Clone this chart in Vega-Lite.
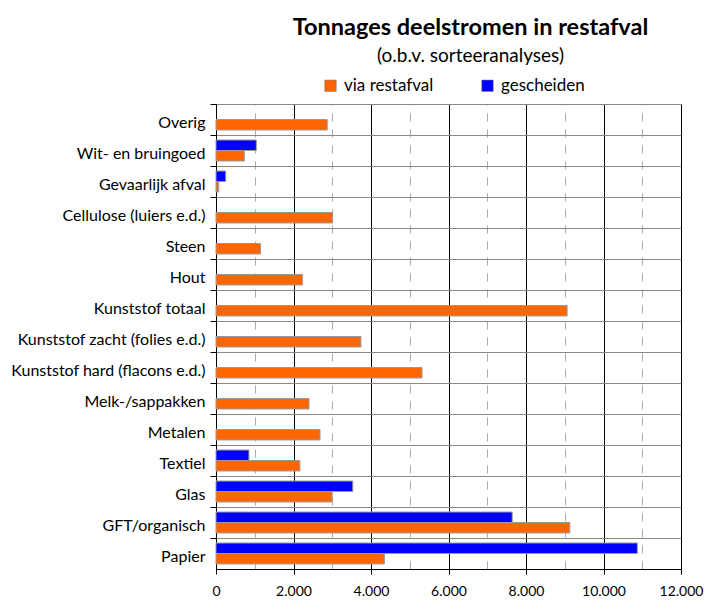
{
  "$schema": "https://vega.github.io/schema/vega-lite/v6.json",
  "autosize": "none",
  "width": 465,
  "height": 465,
  "padding": {"left": 216, "top": 104, "right": 25, "bottom": 32},
  "background": "white",
  "title": {
    "text": "Tonnages deelstromen in restafval",
    "subtitle": "(o.b.v. sorteeranalyses)",
    "anchor": "middle",
    "frame": "group",
    "dx": 22,
    "offset": 11,
    "font": "Lato",
    "fontSize": 23.5,
    "fontWeight": "bold",
    "color": "black",
    "subtitleFont": "Lato",
    "subtitleFontSize": 19,
    "subtitleColor": "black",
    "subtitlePadding": 8
  },
  "data": {
    "values": [
      {"cat": "Overig", "serie": "via restafval", "value": 2870},
      {"cat": "Wit- en bruingoed", "serie": "gescheiden", "value": 1040},
      {"cat": "Wit- en bruingoed", "serie": "via restafval", "value": 730},
      {"cat": "Gevaarlijk afval", "serie": "gescheiden", "value": 250},
      {"cat": "Gevaarlijk afval", "serie": "via restafval", "value": 70},
      {"cat": "Cellulose (luiers e.d.)", "serie": "via restafval", "value": 3010},
      {"cat": "Steen", "serie": "via restafval", "value": 1150},
      {"cat": "Hout", "serie": "via restafval", "value": 2230},
      {"cat": "Kunststof totaal", "serie": "via restafval", "value": 9060},
      {"cat": "Kunststof zacht (folies e.d.)", "serie": "via restafval", "value": 3740},
      {"cat": "Kunststof hard (flacons e.d.)", "serie": "via restafval", "value": 5316},
      {"cat": "Melk-/sappakken", "serie": "via restafval", "value": 2400},
      {"cat": "Metalen", "serie": "via restafval", "value": 2684},
      {"cat": "Textiel", "serie": "gescheiden", "value": 850},
      {"cat": "Textiel", "serie": "via restafval", "value": 2165},
      {"cat": "Glas", "serie": "gescheiden", "value": 3530},
      {"cat": "Glas", "serie": "via restafval", "value": 2997},
      {"cat": "GFT/organisch", "serie": "gescheiden", "value": 7644},
      {"cat": "GFT/organisch", "serie": "via restafval", "value": 9131},
      {"cat": "Papier", "serie": "gescheiden", "value": 10873},
      {"cat": "Papier", "serie": "via restafval", "value": 4345}
    ]
  },
  "mark": {"type": "bar", "stroke": "#999999", "strokeWidth": 1},
  "encoding": {
    "y": {
      "field": "cat",
      "type": "nominal",
      "sort": ["Overig", "Wit- en bruingoed", "Gevaarlijk afval", "Cellulose (luiers e.d.)", "Steen", "Hout", "Kunststof totaal", "Kunststof zacht (folies e.d.)", "Kunststof hard (flacons e.d.)", "Melk-/sappakken", "Metalen", "Textiel", "Glas", "GFT/organisch", "Papier"],
      "scale": {"paddingInner": 0, "paddingOuter": 0},
      "axis": {
        "title": null,
        "bandPosition": 0,
        "labelOffset": 3,
        "grid": true,
        "gridColor": "#888888",
        "gridWidth": 1,
        "domainColor": "black",
        "tickColor": "black",
        "tickSize": 6,
        "labelPadding": 5,
        "labelFont": "Lato",
        "labelFontSize": 16,
        "labelColor": "black",
        "labelLimit": 300
      }
    },
    "yOffset": {
      "field": "serie",
      "type": "nominal",
      "sort": ["gescheiden", "via restafval"],
      "scale": {"paddingInner": 0, "paddingOuter": 0.48}
    },
    "x": {
      "field": "value",
      "type": "quantitative",
      "scale": {"domain": [0, 12000], "nice": false},
      "axis": {
        "title": null,
        "values": [0, 1000, 2000, 3000, 4000, 5000, 6000, 7000, 8000, 9000, 10000, 11000, 12000],
        "labelExpr": "datum.value % 2000 === 0 ? replace(format(datum.value, ','), ',', '.') : ''",
        "grid": true,
        "gridColor": {"condition": {"test": "datum.value % 2000 === 0", "value": "black"}, "value": "#aaaaaa"},
        "gridDash": {"condition": {"test": "datum.value % 2000 === 0", "value": []}, "value": [8, 8]},
        "gridWidth": 1,
        "tickOpacity": {"condition": {"test": "datum.value % 2000 === 0", "value": 1}, "value": 0},
        "domainColor": "black",
        "tickColor": "black",
        "tickSize": 5,
        "labelPadding": 10,
        "labelFont": "Lato",
        "labelFontSize": 14,
        "labelColor": "black",
        "labelFlush": false
      }
    },
    "color": {
      "field": "serie",
      "type": "nominal",
      "scale": {"domain": ["via restafval", "gescheiden"], "range": ["#FF6600", "#0000FF"]},
      "legend": {
        "title": null,
        "orient": "none",
        "direction": "horizontal",
        "legendX": 106,
        "legendY": -27,
        "symbolType": "square",
        "symbolSize": 130,
        "symbolStrokeWidth": 0.5,
        "symbolStrokeColor": "#666666",
        "labelFont": "Lato",
        "labelFontSize": 17,
        "labelColor": "black",
        "labelOffset": 5,
        "columnPadding": 45
      }
    }
  },
  "config": {
    "view": {"stroke": "#888888"}
  }
}
